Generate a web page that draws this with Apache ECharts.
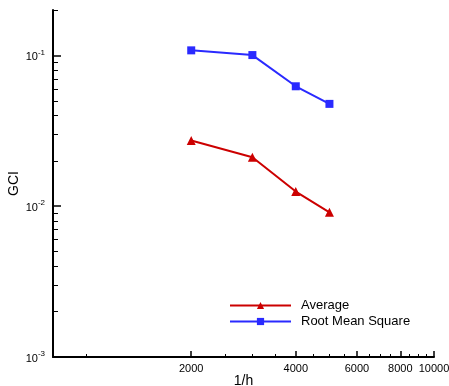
<!DOCTYPE html>
<html><head><meta charset="utf-8">
<script src="https://cdn.jsdelivr.net/npm/echarts@6/dist/echarts.min.js"></script>
<style>html,body{margin:0;padding:0;background:#fff}#c{width:449px;height:386px}</style>
</head><body><div id="c"></div>
<script>
const xValues = [2000, 3000, 4000, 5000];
const averageGCI = [0.0273, 0.0211, 0.0125, 0.0091];
const rmsGCI = [0.108, 0.1005, 0.0624, 0.0477];
const xMajorTicks = [2000, 4000, 6000, 8000, 10000];
const xMinorTicks = [1000, 2500, 3000, 3500, 4500, 5000, 5500, 6500, 7000, 7500, 8500, 9000, 9500];
const yMajorTicks = [0.001, 0.01, 0.1];
const yMinorTicks = [0.002,0.003,0.004,0.005,0.006,0.007,0.008,0.009,0.02,0.03,0.04,0.05,0.06,0.07,0.08,0.09,0.2];

const font = 'Liberation Sans, Arial, sans-serif';
const chart = echarts.init(document.getElementById('c'));
chart.setOption({
  animation: false,
  grid: {left: 53, top: 10, right: 15, bottom: 29, containLabel: false, outerBoundsMode: 'none'},
  legend: {
    orient: 'vertical', left: 229, top: 299, padding: 0, itemWidth: 61, itemHeight: 9, itemGap: 3,
    textStyle: {fontFamily: font, fontSize: 13, color: '#000', padding: [0, 0, 0, 5]},
    data: ['Average', 'Root Mean Square']
  },
  xAxis: [{
    type: 'log', min: 800, max: 10000, logBase: 10,
    name: '1/h', nameLocation: 'middle', nameGap: 17, nameMoveOverlap: false,
    nameTextStyle: {fontFamily: font, fontSize: 14, color: '#000', verticalAlign: 'top'},
    axisLine: {lineStyle: {color: '#000', width: 2}},
    axisTick: {inside: true, length: 6, customValues: xMajorTicks, lineStyle: {color: '#000', width: 1.5}},
    axisLabel: {customValues: xMajorTicks, formatter: v => String(Math.round(v)), fontFamily: font, fontSize: 11, color: '#000', margin: 6},
    splitLine: {show: false}, minorTick: {show: false}
  }, {
    type: 'log', min: 800, max: 10000, logBase: 10, position: 'bottom',
    axisLine: {show: false},
    axisTick: {inside: true, length: 3, customValues: xMinorTicks, lineStyle: {color: '#000', width: 1}},
    axisLabel: {show: false}, splitLine: {show: false}
  }],
  yAxis: [{
    type: 'log', min: 0.001, max: 0.2, logBase: 10,
    name: 'GCI', nameLocation: 'middle', nameGap: 32, nameRotate: 90, nameMoveOverlap: false,
    nameTextStyle: {fontFamily: font, fontSize: 14, color: '#000'},
    axisLine: {lineStyle: {color: '#000', width: 2}},
    axisTick: {inside: true, length: 8, customValues: yMajorTicks, lineStyle: {color: '#000', width: 1.5}},
    axisLabel: {
      customValues: yMajorTicks, margin: 8,
      formatter: v => '{b|10}{s|' + Math.round(Math.log10(v)) + '}',
      rich: {
        b: {fontFamily: font, fontSize: 11, color: '#000', verticalAlign: 'bottom'},
        s: {fontFamily: font, fontSize: 8, color: '#000', verticalAlign: 'top', padding: [0, 0, 6, 0]}
      }
    },
    splitLine: {show: false}
  }, {
    type: 'log', min: 0.001, max: 0.2, logBase: 10, position: 'left',
    axisLine: {show: false},
    axisTick: {inside: true, length: 5, customValues: yMinorTicks, lineStyle: {color: '#000', width: 1}},
    axisLabel: {show: false}, splitLine: {show: false}
  }],
  series: [{
    name: 'Average', type: 'line', xAxisIndex: 0, yAxisIndex: 0,
    data: xValues.map((x, i) => [x, averageGCI[i]]),
    symbol: 'triangle', symbolSize: 9,
    lineStyle: {color: '#cc0000', width: 2}, itemStyle: {color: '#cc0000'}, color: '#cc0000'
  }, {
    name: 'Root Mean Square', type: 'line', xAxisIndex: 0, yAxisIndex: 0,
    data: xValues.map((x, i) => [x, rmsGCI[i]]),
    symbol: 'rect', symbolSize: 8,
    lineStyle: {color: '#2a2aff', width: 2}, itemStyle: {color: '#2a2aff'}, color: '#2a2aff'
  }]
});
</script></body></html>
